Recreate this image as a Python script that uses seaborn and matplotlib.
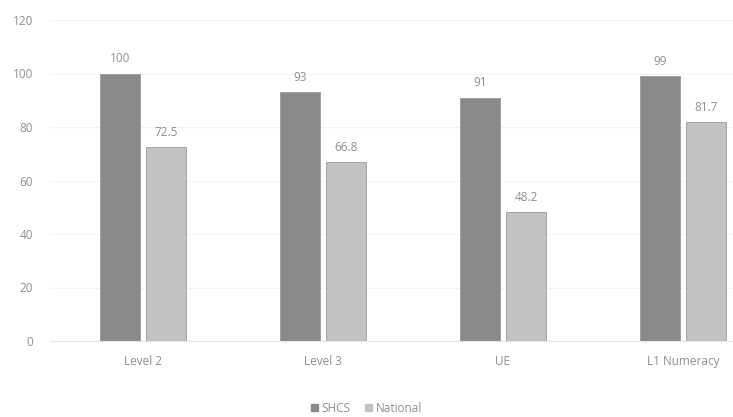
import numpy as np
import pandas as pd
import matplotlib
matplotlib.use("Agg")
import matplotlib.pyplot as plt
import seaborn as sns

categories = ["Level 2", "Level 3", "UE", "L1 Numeracy"]
series_names = ["SHCS", "National"]
shcs = [100, 93, 91, 99]
national = [72.5, 66.8, 48.2, 81.7]
value_labels = [["100", "93", "91", "99"], ["72.5", "66.8", "48.2", "81.7"]]

df = pd.DataFrame({
    "category": categories * 2,
    "series": [series_names[0]] * 4 + [series_names[1]] * 4,
    "value": shcs + national,
})

sns.set_style("white")
plt.rcParams["font.family"] = ["Open Sans", "DejaVu Sans"]

fig = plt.figure(figsize=(7.33, 4.17), dpi=100)
ax = fig.add_axes([50 / 733, 1 - 341 / 417, 683 / 733, 321 / 417])

palette = {"SHCS": "#8a8a8a", "National": "#c2c2c2"}
sns.barplot(data=df, x="category", y="value", hue="series", palette=palette,
            width=0.51, gap=0.11, ax=ax, legend=False, saturation=1,
            edgecolor="#9a9a9a", linewidth=0.6)

for cont, labels in zip(ax.containers, value_labels):
    ax.bar_label(cont, labels=labels, padding=6, fontsize=8.5, color="#8f8f8f")

ax.set_ylim(0, 120)
ax.set_yticks(range(0, 121, 20))
ax.set_xlim((50 - 143) / 180, (733 - 143) / 180)
ax.set_xlabel("")
ax.set_ylabel("")
ax.grid(axis="y", color="#f3f3f3", linewidth=0.8)
ax.set_axisbelow(True)
for s in ax.spines.values():
    s.set_visible(False)
ax.spines["bottom"].set_visible(True)
ax.spines["bottom"].set_color("#e6e6e6")
ax.tick_params(axis="both", length=0, labelsize=8.5, labelcolor="#8f8f8f")
ax.tick_params(axis="y", pad=12)
ax.tick_params(axis="x", pad=10)

handles = [plt.Rectangle((0, 0), 1, 1, color=palette[n]) for n in series_names]
fig.legend(handles, series_names, loc="center", bbox_to_anchor=(0.5, 1 - 408 / 417),
           ncol=2, frameon=False, fontsize=8.5, labelcolor="#8f8f8f",
           handlelength=0.6, handleheight=0.6, handletextpad=0.3, columnspacing=1.2)

fig.savefig("out.png", dpi=100)
